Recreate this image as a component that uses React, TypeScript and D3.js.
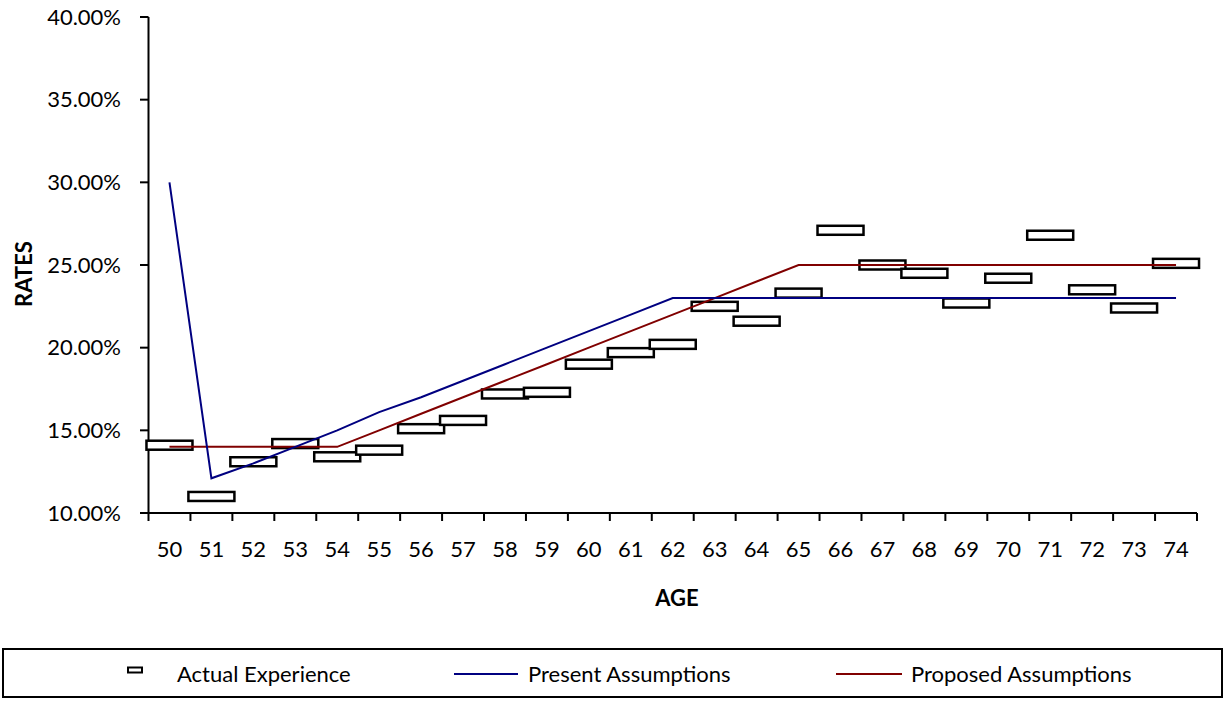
import React from "react";
import * as d3 from "d3";

const ages = d3.range(50, 75).map(String);
const actualExperience = [
  14.1, 11.0, 13.1, 14.2, 13.4, 13.8, 15.1, 15.6, 17.2, 17.3, 19.0, 19.7, 20.2,
  22.5, 21.6, 23.3, 27.1, 25.0, 24.5, 22.7, 24.2, 26.8, 23.5, 22.4, 25.1,
];
const presentAssumptions = [
  30, 12.1, 13, 14, 15, 16.1, 17, 18, 19, 20, 21, 22, 23,
  23, 23, 23, 23, 23, 23, 23, 23, 23, 23, 23, 23,
];
const proposedAssumptions = [
  14, 14, 14, 14, 14, 15, 16, 17, 18, 19, 20, 21, 22,
  23, 24, 25, 25, 25, 25, 25, 25, 25, 25, 25, 25,
];
const yTicks = [10, 15, 20, 25, 30, 35, 40];

const W = 1226;
const H = 702;
const FONT = "Lato, 'Open Sans', sans-serif";
const BLUE = "#000080";
const RED = "#800000";

export default function App() {
  const x = d3.scaleBand<string>().domain(ages).range([148.5, 1197]);
  const y = d3.scaleLinear().domain([10, 40]).range([513, 17]);
  const cx = (a: string) => (x(a) as number) + x.bandwidth() / 2;

  const line = d3
    .line<number>()
    .x((_, i) => cx(ages[i]))
    .y((v) => y(v));

  const markW = 46;
  const markH = 9;

  return (
    <div style={{ position: "fixed", left: 0, top: 0 }}>
      <svg width={W} height={H} style={{ display: "block", background: "#fff" }}>
        {/* y axis */}
        <line x1={148.5} x2={148.5} y1={17} y2={513} stroke="#000" strokeWidth={2} />
        {yTicks.map((t) => (
          <g key={t}>
            <line x1={140} x2={148.5} y1={y(t)} y2={y(t)} stroke="#000" strokeWidth={2} />
            <text
              x={121}
              y={y(t)}
              dy="0.35em"
              textAnchor="end"
              fontFamily={FONT}
              fontSize={22}
              fill="#000"
            >
              {t.toFixed(2) + "%"}
            </text>
          </g>
        ))}
        {/* x axis */}
        <line x1={148.5} x2={1197} y1={513} y2={513} stroke="#000" strokeWidth={2} />
        {ages.map((a) => (
          <line
            key={"t" + a}
            x1={x(a) as number}
            x2={x(a) as number}
            y1={513}
            y2={521}
            stroke="#000"
            strokeWidth={2}
          />
        ))}
        <line x1={1197} x2={1197} y1={513} y2={521} stroke="#000" strokeWidth={2} />
        {ages.map((a) => (
          <text
            key={"l" + a}
            x={cx(a)}
            y={549}
            dy="0.35em"
            textAnchor="middle"
            fontFamily={FONT}
            fontSize={22}
            fill="#000"
          >
            {a}
          </text>
        ))}
        <text x={677} y={598} dy="0.35em" textAnchor="middle" fontFamily={FONT} fontSize={22} fontWeight="bold">
          AGE
        </text>
        <text
          transform="translate(24,274) rotate(-90)"
          dy="0.35em"
          textAnchor="middle"
          fontFamily={FONT}
          fontSize={22}
          fontWeight="bold"
        >
          RATES
        </text>

        {/* series */}
        {actualExperience.map((v, i) => (
          <rect
            key={"m" + i}
            x={cx(ages[i]) - markW / 2}
            y={y(v) - markH / 2}
            width={markW}
            height={markH}
            fill="#fff"
            stroke="#000"
            strokeWidth={2.5}
          />
        ))}
        <path d={line(proposedAssumptions) || ""} fill="none" stroke={RED} strokeWidth={2} />
        <path d={line(presentAssumptions) || ""} fill="none" stroke={BLUE} strokeWidth={2} />

        {/* legend */}
        <rect x={3} y={649} width={1219} height={48} fill="#fff" stroke="#000" strokeWidth={2} />
        <rect x={128} y={667.5} width={14} height={5} fill="#fff" stroke="#000" strokeWidth={2} />
        <text x={177} y={674} dy="0.35em" fontFamily={FONT} fontSize={22}>
          Actual Experience
        </text>
        <line x1={454} x2={518} y1={674} y2={674} stroke={BLUE} strokeWidth={2} />
        <text x={528} y={674} dy="0.35em" fontFamily={FONT} fontSize={22}>
          Present Assumptions
        </text>
        <line x1={836} x2={902} y1={674} y2={674} stroke={RED} strokeWidth={2} />
        <text x={911} y={674} dy="0.35em" fontFamily={FONT} fontSize={22}>
          Proposed Assumptions
        </text>
      </svg>
    </div>
  );
}
